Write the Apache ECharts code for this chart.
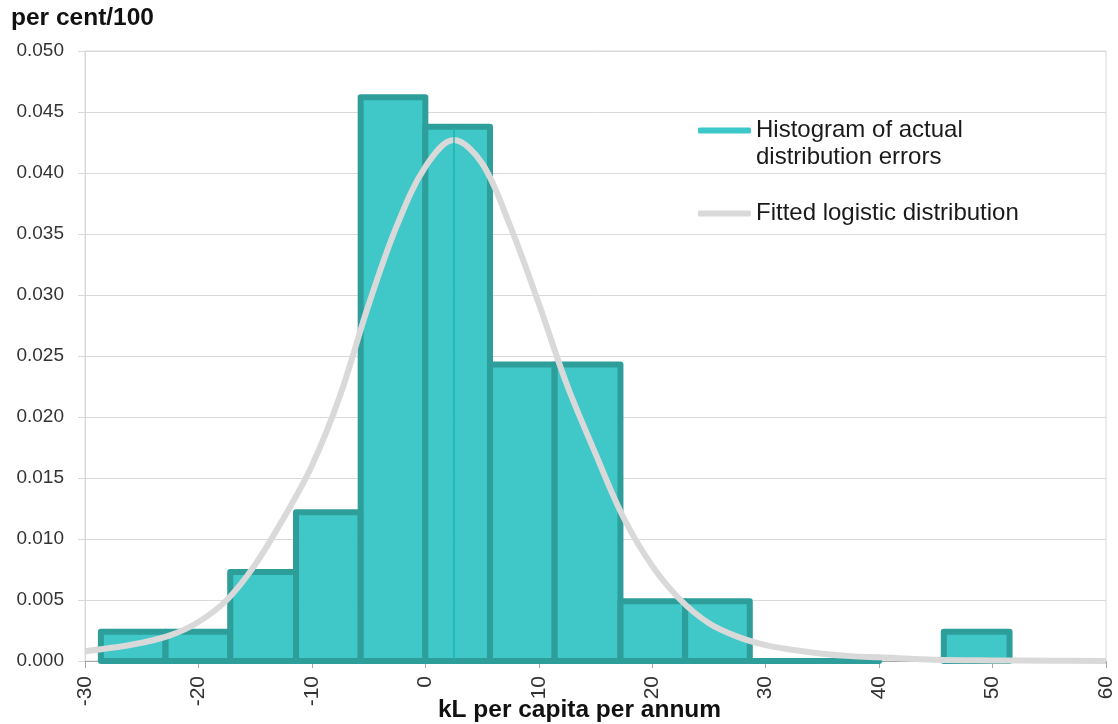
<!DOCTYPE html>
<html>
<head>
<meta charset="utf-8">
<style>
  html, body { margin: 0; padding: 0; background: #ffffff; }
  #chart { width: 1118px; height: 724px; }
</style>
<script src="https://cdn.jsdelivr.net/npm/echarts@6/dist/echarts.min.js"></script>
</head>
<body>
<div id="chart"></div>
<script>
// Histogram bins (kL per capita per annum) and their density (per cent/100)
const binLo   = [-28.6, -22.9, -17.2, -11.4, -5.7, 0.0, 5.7, 11.4, 17.2, 22.9, 28.6, 34.3, 45.7];
const binHi   = [-22.9, -17.2, -11.4, -5.7, 0.0, 5.7, 11.4, 17.2, 22.9, 28.6, 34.3, 40.0, 51.5];
const density = [0.0024, 0.0024, 0.0073, 0.0122, 0.0462, 0.0438, 0.0243, 0.0243, 0.0049, 0.0049, 0, 0, 0.0024];

// Fitted logistic density curve
const curveX = [-30, -27.5, -25, -22.5, -20, -17.5, -15, -12.5, -10, -7.5, -5, -2.5, 0, 2.5, 5,
                7.5, 10, 12.5, 15, 17.5, 20, 22.5, 25, 27.5, 30, 32.5, 35, 37.5, 40, 45, 50, 55, 60];
const curveY = [0.0008, 0.0011, 0.0015, 0.0021, 0.0032, 0.0050, 0.0079, 0.0117, 0.0160, 0.0218, 0.0292,
                0.0357, 0.0405, 0.0427, 0.0408, 0.0356, 0.0293, 0.0226, 0.0170, 0.0117,
                0.0078, 0.0050, 0.0031, 0.0020, 0.0013, 0.0009, 0.0006, 0.0004, 0.0003, 0.0001,
                0.00005, 0.00002, 0.00001];

// Location of the fitted peak, marked inside its bin
const peakX = 2.5;
const peakBin = 5;

// Axis ticks
const xTicks = { min: -30, max: 60, step: 10 };
const yTicks = { min: 0, max: 0.05, step: 0.005 };

const seriesNames = ['Histogram of actual distribution errors', 'Fitted logistic distribution'];

const FONT = '"Liberation Sans", Arial, sans-serif';
const FILL = 'rgba(56,197,197,0.96)';
const EDGE = '#2e9e9b';
const CURVE = '#d9d9d9';
const LEGEND_TEXT = { fontFamily: FONT, fontSize: 24, color: '#1a1a1a', lineHeight: 27 };

const histData = binLo.map((lo, i) => [lo, binHi[i], density[i]]);
const curveData = curveX.map((x, i) => [x, curveY[i]]);

const chart = echarts.init(document.getElementById('chart'), null, { renderer: 'canvas' });

chart.setOption({
  animation: false,
  backgroundColor: '#ffffff',
  title: {
    text: 'per cent/100',
    left: 11, top: 6, padding: 0,
    textStyle: { fontFamily: FONT, fontSize: 24.5, fontWeight: 'bold', color: '#111' }
  },
  legend: [
    {
      // first line sits level with the key; the label wraps onto a second line
      data: [{ name: seriesNames[0], itemStyle: { color: '#3cc8c8' } }],
      left: 698, top: 90, padding: 0,
      icon: 'roundRect', itemWidth: 53, itemHeight: 6, itemGap: 5,
      selectedMode: false,
      formatter: () => '{gap| }\n{t|Histogram of actual}\n{t|distribution errors}',
      textStyle: Object.assign({}, LEGEND_TEXT, {
        rich: { gap: { lineHeight: 27, fontSize: 24 }, t: LEGEND_TEXT }
      })
    },
    {
      data: [{ name: seriesNames[1], itemStyle: { color: CURVE } }],
      left: 698, top: 200, padding: 0,
      icon: 'roundRect', itemWidth: 53, itemHeight: 6,
      selectedMode: false,
      textStyle: LEGEND_TEXT
    }
  ],
  grid: {
    left: 85, right: 12, top: 51, bottom: 63,
    containLabel: false, outerBoundsMode: 'none',
    show: true, borderColor: '#d9d9d9', borderWidth: 1
  },
  xAxis: {
    type: 'value',
    min: xTicks.min, max: xTicks.max, interval: xTicks.step,
    name: 'kL per capita per annum',
    nameLocation: 'middle', nameGap: 37, nameMoveOverlap: false,
    nameTextStyle: { fontFamily: FONT, fontSize: 24.5, fontWeight: 'bold', color: '#111',
                     padding: [0, 32, 0, 0] },
    axisLine: { show: true, onZero: false, lineStyle: { color: '#a6a6a6', width: 1 } },
    axisTick: { show: true, length: 7, lineStyle: { color: '#a6a6a6' } },
    axisLabel: { rotate: 90, margin: 15, fontFamily: FONT, fontSize: 21, color: '#333' },
    splitLine: { show: false }
  },
  yAxis: {
    type: 'value',
    min: yTicks.min, max: yTicks.max, interval: yTicks.step,
    axisLine: { show: true, onZero: false, lineStyle: { color: '#d9d9d9' } },
    axisTick: { show: true, length: 7, lineStyle: { color: '#d9d9d9' } },
    axisLabel: { margin: 21, fontFamily: FONT, fontSize: 19, color: '#333',
                 formatter: v => v.toFixed(3) },
    splitLine: { show: true, lineStyle: { color: '#d9d9d9', width: 1 } }
  },
  series: [
    {
      name: seriesNames[0],
      type: 'custom',
      z: 2,
      itemStyle: { color: '#3cc8c8' },
      encode: { x: [0, 1], y: 2 },
      data: histData,
      renderItem: function (params, api) {
        const topLeft = api.coord([api.value(0), api.value(2)]);
        const botRight = api.coord([api.value(1), 0]);
        return {
          type: 'rect',
          shape: {
            x: topLeft[0], y: topLeft[1],
            width: botRight[0] - topLeft[0],
            height: botRight[1] - topLeft[1]
          },
          style: { fill: FILL, stroke: EDGE, lineWidth: 6, lineJoin: 'round' }
        };
      },
      markLine: {
        silent: true,
        symbol: ['none', 'none'],
        label: { show: false },
        lineStyle: { color: 'rgba(20,178,178,0.65)', width: 2, type: 'solid' },
        data: [[{ coord: [peakX, 0] }, { coord: [peakX, density[peakBin]] }]]
      }
    },
    {
      name: seriesNames[1],
      type: 'line',
      z: 3,
      data: curveData,
      smooth: 0.35,
      symbol: 'none',
      color: CURVE,
      lineStyle: { color: CURVE, width: 6 }
    }
  ]
});
</script>
</body>
</html>
